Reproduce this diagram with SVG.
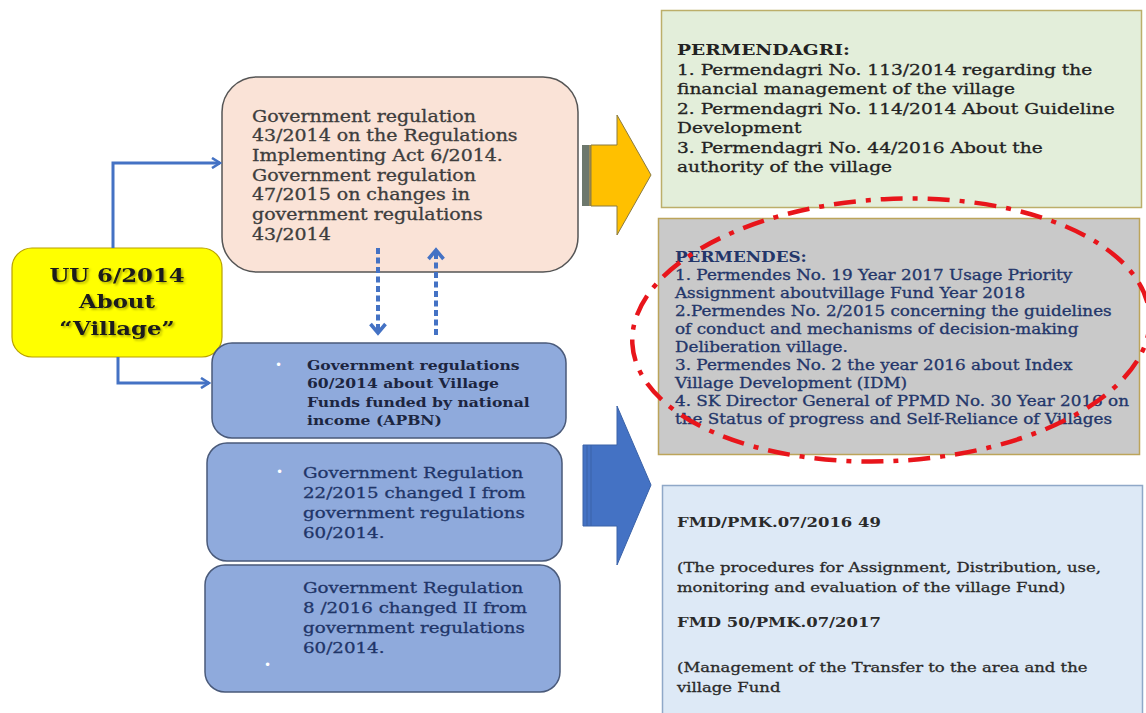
<svg xmlns="http://www.w3.org/2000/svg" width="1146" height="713" viewBox="0 0 1146 713">
<style>
  text { font-family: "DejaVu Serif", "Liberation Serif", serif; }
  .pink { fill: #3d3d3d; stroke: #3d3d3d; stroke-width: 0.3; font-size: 15.8px; }
  .green { fill: #222; stroke: #222; stroke-width: 0.3; font-size: 15.5px; }
  .gray { fill: #23366a; stroke: #23366a; stroke-width: 0.3; font-size: 14px; }
  .b1 { fill: #1c2540; font-size: 13px; font-weight: bold; }
  .b2 { fill: #1f3568; stroke: #1f3568; stroke-width: 0.3; font-size: 15.2px; }
  .fmd { fill: #2a2a2a; stroke: #2a2a2a; stroke-width: 0.3; font-size: 13.7px; }
  .bold { font-weight: bold; stroke-width: 0; }
  .bullet { fill: #ffffff; font-size: 12px; font-family: "DejaVu Sans", sans-serif; }
  .conn { fill: none; stroke: #4472C4; stroke-width: 3; }
  .dash { fill: none; stroke: #4472C4; stroke-width: 4; stroke-dasharray: 6 3.5; }
  .bluebox { fill: #8FAADC; stroke: #4a5a7a; stroke-width: 1.5; }
</style>
<defs>
  <marker id="chev" viewBox="0 0 12 12" refX="10" refY="6" markerWidth="12" markerHeight="12" markerUnits="userSpaceOnUse" orient="auto">
    <path d="M2,1 L10,6 L2,11" fill="none" stroke="#4472C4" stroke-width="2.6"/>
  </marker>
  <marker id="chev2" viewBox="0 0 16 18" refX="12" refY="9" markerWidth="16" markerHeight="18" markerUnits="userSpaceOnUse" orient="auto">
    <path d="M3,1.5 L12,9 L3,16.5" fill="none" stroke="#4472C4" stroke-width="3.6"/>
  </marker>
  <filter id="shadow" x="-10%" y="-10%" width="130%" height="140%">
    <feDropShadow dx="1.5" dy="1.5" stdDeviation="0.8" flood-color="#000" flood-opacity="0.35"/>
  </filter>
</defs>
<rect width="1146" height="713" fill="#ffffff"/>

<g id="node-uu">
  <rect x="12" y="248" width="210" height="109" rx="20" fill="#FFFF00" stroke="#b8a000" stroke-width="1.2"/>
  <g transform="translate(117,0) scale(1.2,1)" filter="url(#shadow)">
    <text x="0" y="282" text-anchor="middle" class="bold" fill="#1a1a1a" font-size="19">UU 6/2014</text>
    <text x="0" y="308" text-anchor="middle" class="bold" fill="#1a1a1a" font-size="19">About</text>
    <text x="0" y="335" text-anchor="middle" class="bold" fill="#1a1a1a" font-size="19">“Village”</text>
  </g>
</g>

<g id="node-pp43">
  <rect x="222" y="77" width="356" height="195" rx="35" fill="#FAE3D7" stroke="#555" stroke-width="1.5"/>
  <g transform="translate(252,0) scale(1.2,1)">
    <text x="0" y="122" class="pink">Government regulation</text>
    <text x="0" y="141.5" class="pink">43/2014 on the Regulations</text>
    <text x="0" y="161" class="pink">Implementing Act 6/2014.</text>
    <text x="0" y="181" class="pink">Government regulation</text>
    <text x="0" y="200.5" class="pink">47/2015 on changes in</text>
    <text x="0" y="220" class="pink">government regulations</text>
    <text x="0" y="240" class="pink">43/2014</text>
  </g>
</g>

<g id="node-pp60">
  <rect class="bluebox" x="212" y="343" width="354" height="95" rx="20"/>
  <text x="275" y="369" class="bullet">•</text>
  <g transform="translate(307,0) scale(1.2,1)">
    <text x="0" y="370" class="b1">Government regulations</text>
    <text x="0" y="388.5" class="b1">60/2014 about Village</text>
    <text x="0" y="407" class="b1">Funds funded by national</text>
    <text x="0" y="425.5" class="b1">income (APBN)</text>
  </g>
</g>

<g id="node-pp22">
  <rect class="bluebox" x="207" y="443" width="355" height="118" rx="20"/>
  <text x="276" y="476" class="bullet">•</text>
  <g transform="translate(303,0) scale(1.2,1)">
    <text x="0" y="478" class="b2">Government Regulation</text>
    <text x="0" y="498" class="b2">22/2015  changed I from</text>
    <text x="0" y="518" class="b2">government regulations</text>
    <text x="0" y="538" class="b2">60/2014.</text>
  </g>
</g>

<g id="node-pp8">
  <rect class="bluebox" x="205" y="565" width="355" height="127" rx="20"/>
  <g transform="translate(303,0) scale(1.2,1)">
    <text x="0" y="593" class="b2">Government Regulation</text>
    <text x="0" y="613" class="b2">8 /2016 changed II from</text>
    <text x="0" y="633" class="b2">government regulations</text>
    <text x="0" y="653" class="b2">60/2014.</text>
  </g>
  <text x="264" y="669" class="bullet">•</text>
</g>

<g id="node-permendagri">
  <rect x="661.5" y="10.5" width="480" height="197" fill="#E3EEDA" stroke="#bcae6a" stroke-width="1.5"/>
  <g transform="translate(677,0) scale(1.2,1)">
    <text x="0" y="55" class="green bold">PERMENDAGRI:</text>
    <text x="0" y="75" class="green">1. Permendagri No. 113/2014 regarding the</text>
    <text x="0" y="94.5" class="green">financial management of the village</text>
    <text x="0" y="114" class="green">2. Permendagri No. 114/2014 About Guideline</text>
    <text x="0" y="133.5" class="green">Development</text>
    <text x="0" y="153" class="green">3. Permendagri No. 44/2016 About the</text>
    <text x="0" y="172.5" class="green">authority of the village</text>
  </g>
</g>

<g id="node-permendes">
  <rect x="658.5" y="218.5" width="481" height="236" fill="#C9C9C9" stroke="#bca45a" stroke-width="1.5"/>
  <g transform="translate(675,0) scale(1.2,1)">
    <text x="0" y="262" class="gray bold">PERMENDES:</text>
    <text x="0" y="280" class="gray">1. Permendes No. 19 Year 2017 Usage Priority</text>
    <text x="0" y="298.5" class="gray">Assignment aboutvillage Fund Year 2018</text>
    <text x="0" y="316.5" class="gray">2.Permendes No. 2/2015 concerning the guidelines</text>
    <text x="0" y="334.5" class="gray">of conduct and mechanisms of decision-making</text>
    <text x="0" y="352.5" class="gray">Deliberation village.</text>
    <text x="0" y="370.5" class="gray">3. Permendes No. 2 the year 2016 about Index</text>
    <text x="0" y="388.5" class="gray">Village Development (IDM)</text>
    <text x="0" y="406" class="gray">4. SK Director General of PPMD No. 30 Year 2016 on</text>
    <text x="0" y="424" class="gray">the Status of progress and Self-Reliance of  Villages</text>
  </g>
</g>

<g id="node-fmd">
  <rect x="662.5" y="485.5" width="480" height="240" fill="#DDE9F6" stroke="#8fa8c8" stroke-width="1.5"/>
  <g transform="translate(677,0) scale(1.2,1)">
    <text x="0" y="527" class="fmd bold">FMD/PMK.07/2016 49</text>
    <text x="0" y="572" class="fmd">(The procedures for Assignment, Distribution, use,</text>
    <text x="0" y="592" class="fmd">monitoring and evaluation of the village Fund)</text>
    <text x="0" y="627" class="fmd bold">FMD 50/PMK.07/2017</text>
    <text x="0" y="672" class="fmd">(Management of the Transfer to the area and the</text>
    <text x="0" y="692" class="fmd">village Fund</text>
  </g>
</g>

<!-- connectors -->
<g id="connectors">
  <path class="conn" d="M113,248 V163 H220" marker-end="url(#chev)"/>
  <path class="conn" d="M118,357 V383 H209" marker-end="url(#chev)"/>
  <path class="dash" d="M378,248 V333" marker-end="url(#chev2)"/>
  <path class="dash" d="M436,335 V250" marker-end="url(#chev2)"/>
  <g id="arrow-yellow">
    <rect x="582" y="145" width="7" height="61" fill="#6d786d"/>
    <rect x="589" y="145" width="2" height="61" fill="#9c8a55"/>
    <polygon points="591,145 617,145 617,115 651,175 617,235 617,206 591,206" fill="#FFC000" stroke="#8a7a40" stroke-width="1"/>
  </g>
  <g id="arrow-blue">
    <polygon points="583,445 617,445 617,406 651,485 617,565 617,526 583,526" fill="#4472C4" stroke="#3a62a8" stroke-width="1"/>
    <line x1="587" y1="445" x2="587" y2="526" stroke="#3a62a8" stroke-width="1"/>
    <line x1="591" y1="445" x2="591" y2="526" stroke="#3a62a8" stroke-width="1"/>
  </g>
</g>

<g id="highlight">
  <ellipse cx="891" cy="330" rx="259" ry="131" transform="rotate(-3 891 330)" fill="none" stroke="#E8151B" stroke-width="4.5" stroke-dasharray="22 10 5 10"/>
</g>
</svg>
